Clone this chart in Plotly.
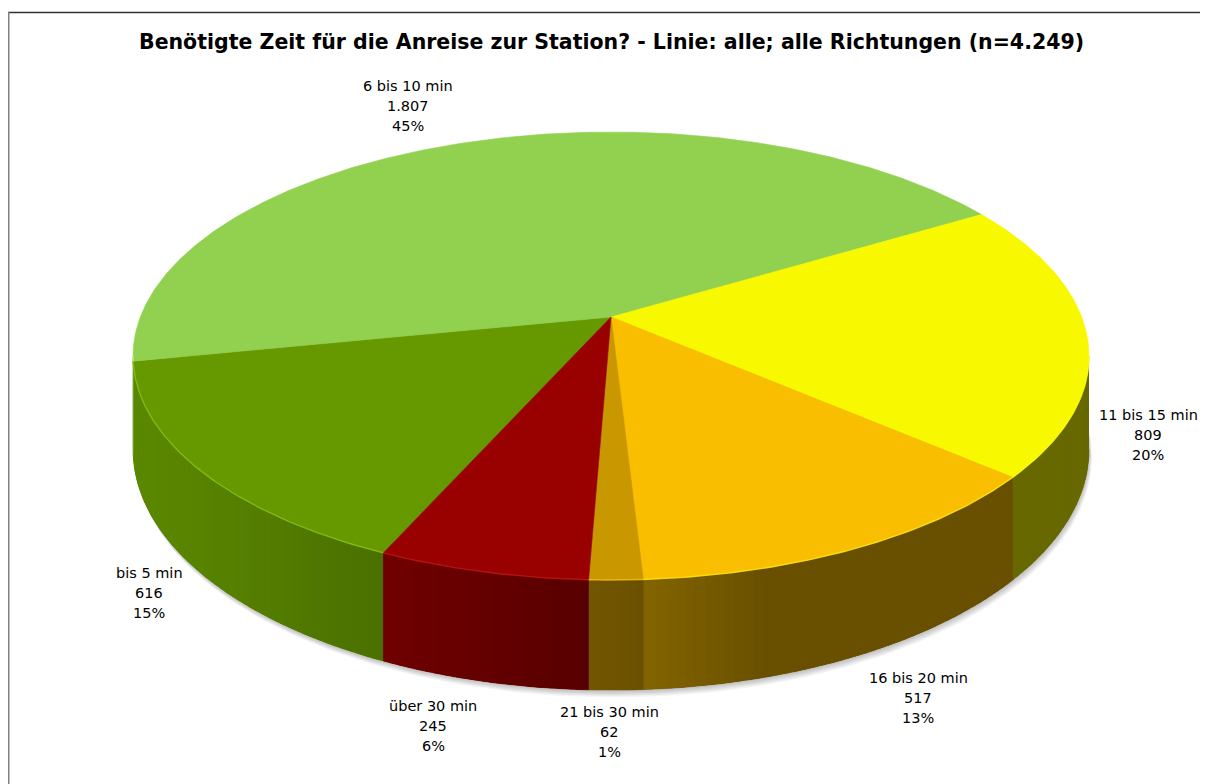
import numpy as np
import plotly.graph_objects as go

# ---------------- data ----------------
categories = ["bis 5 min", "6 bis 10 min", "11 bis 15 min", "16 bis 20 min", "21 bis 30 min", "über 30 min"]
values = [616, 1807, 809, 517, 62, 245]
value_labels = ["616", "1.807", "809", "517", "62", "245"]
percent_labels = ["15%", "45%", "20%", "13%", "1%", "6%"]
title_text = "Benötigte Zeit für die Anreise zur Station? - Linie: alle; alle Richtungen (n=4.249)"

# ---------------- style ----------------
top_colors = [(102, 153, 0), (146, 208, 80), (248, 248, 0), (249, 190, 0), (201, 151, 0), (153, 0, 0)]
label_pos = [(149, 593), (408, 106), (1148, 435), (918, 698), (609, 732), (433, 726)]
CX, CY, A, B, K, D = 611.0, 317.0, 470.7, 217.2, 0.174, 91.0
START = 204.0          # first slice angle (deg, clockwise from 12 o'clock)
LINE_H = 19.7
PAGE_OFF = 8           # default body margin of the page


def proj(theta_deg):
    t = np.radians(theta_deg)
    u, v = np.sin(t), np.cos(t)
    den = 1 + K * v
    return CX + A * u / den, CY - B * v / den, D / den


def rgb(c, f=1.0):
    return "rgb(%d,%d,%d)" % tuple(int(max(0, min(255, round(ch * f)))) for ch in c)


def shade(theta):
    return max(0.42, 0.38 + 0.5 * np.cos(np.radians(theta - 250)))


total = float(sum(values))
bounds = []
acc = START
for v in values:
    span = v / total * 360.0
    bounds.append((acc, acc + span))
    acc += span

fig = go.Figure()

# ---------------- soft shadow ----------------
th_all = np.linspace(0, 360, 361)
xs, ys, ds = proj(th_all)
for off in [12, 10, 8, 6, 4, 2]:
    fig.add_trace(go.Scatter(
        x=xs + off * 0.25, y=ys + ds + off * 0.6, mode="lines", fill="toself",
        fillcolor="rgba(0,0,0,0.045)", line=dict(width=0), hoverinfo="skip"))

# ---------------- side walls ----------------
visible = [(100.0, 260.0), (460.0, 620.0)]
for (s, e), col in zip(bounds, top_colors):
    for (vs, ve) in visible:
        a0, a1 = max(s, vs), min(e, ve)
        if a1 <= a0:
            continue
        # base wall
        tt = np.linspace(a0, a1, max(3, int((a1 - a0) * 2)))
        x, y, d = proj(tt)
        c = rgb(col, shade((a0 + a1) / 2 % 360))
        fig.add_trace(go.Scatter(
            x=np.concatenate([x, x[::-1]]), y=np.concatenate([y, (y + d)[::-1]]),
            mode="lines", fill="toself", fillcolor=c, line=dict(width=0.5, color=c),
            hoverinfo="skip"))
        # gradient bands
        n = max(1, int(np.ceil((a1 - a0) / 1.0)))
        edges = np.linspace(a0, a1, n + 1)
        for j in range(n):
            t0, t1 = edges[j], edges[j + 1]
            e0, e1 = max(a0, t0 - 0.3), min(a1, t1 + 0.3)
            tt = np.linspace(e0, e1, 3)
            x, y, d = proj(tt)
            c = rgb(col, shade((t0 + t1) / 2 % 360))
            fig.add_trace(go.Scatter(
                x=np.concatenate([x, x[::-1]]), y=np.concatenate([y, (y + d)[::-1]]),
                mode="lines", fill="toself", fillcolor=c,
                line=dict(width=0), hoverinfo="skip"))

# ---------------- top faces ----------------
for (s, e), col in zip(bounds, top_colors):
    tt = np.linspace(s, e, max(3, int((e - s) * 2)))
    x, y, _ = proj(tt)
    c = rgb(col)
    fig.add_trace(go.Scatter(
        x=np.concatenate([[CX], x, [CX]]), y=np.concatenate([[CY], y, [CY]]),
        mode="lines", fill="toself", fillcolor=c,
        line=dict(width=0.6, color=c), hoverinfo="skip"))

# rim highlight on the front edge
for (s, e), col in zip(bounds, top_colors):
    for (vs, ve) in visible:
        a0, a1 = max(s, vs), min(e, ve)
        if a1 <= a0:
            continue
        tt = np.linspace(a0, a1, max(3, int((a1 - a0) * 2)))
        x, y, _ = proj(tt)
        hl = tuple(min(255, ch * 1.15 + 25) for ch in col)
        fig.add_trace(go.Scatter(
            x=x, y=y, mode="lines", line=dict(width=1.4, color=rgb(hl)),
            opacity=0.7, hoverinfo="skip"))

# ---------------- labels ----------------
annotations = []
for cat, vl, pl, (lx, ly) in zip(categories, value_labels, percent_labels, label_pos):
    for k, txt in enumerate([cat, vl, pl]):
        annotations.append(dict(
            x=lx, y=ly + (k - 1) * LINE_H, xref="x", yref="y", text=txt,
            showarrow=False, xanchor="center", yanchor="middle",
            font=dict(family="DejaVu Sans", size=14.5, color="#000000")))

annotations.append(dict(
    x=611, y=42, xref="x", yref="y", text="<b>" + title_text + "</b>",
    showarrow=False, xanchor="center", yanchor="middle",
    font=dict(family="DejaVu Sans", size=20.5, color="#000000")))

fig.update_layout(
    width=1208 - PAGE_OFF, height=784 - PAGE_OFF,
    margin=dict(l=0, r=0, t=0, b=0),
    paper_bgcolor="white", plot_bgcolor="white",
    showlegend=False,
    xaxis=dict(range=[PAGE_OFF, 1208], visible=False, fixedrange=True),
    yaxis=dict(range=[784, PAGE_OFF], visible=False, fixedrange=True),
    annotations=annotations,
    shapes=[
        dict(type="line", xref="x", yref="y", x0=8, x1=1210, y0=12.5, y1=12.5,
             line=dict(color="#303030", width=1.5)),
        dict(type="line", xref="x", yref="y", x0=8.5, x1=8.5, y0=12, y1=790,
             line=dict(color="#808080", width=2)),
    ],
)

fig.write_html("out.html")
